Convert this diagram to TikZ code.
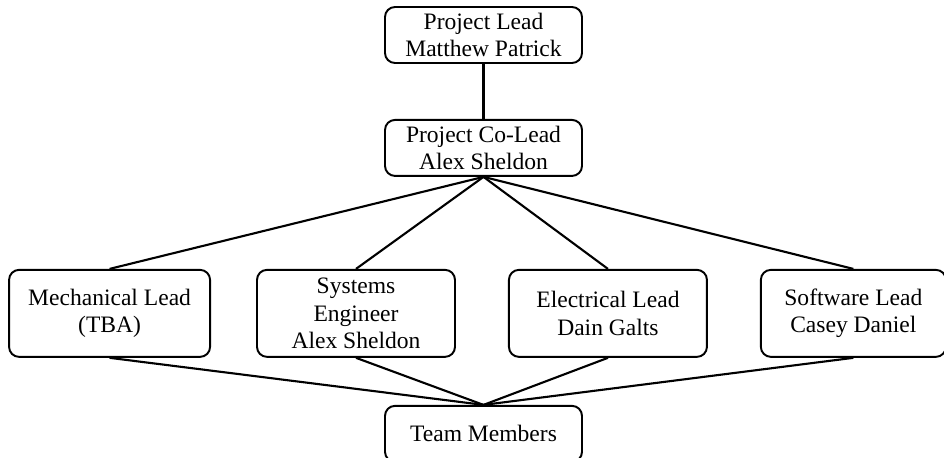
\documentclass[tikz,border=0pt]{standalone}
\usepackage{fontspec}
\setmainfont{Liberation Serif}
\usetikzlibrary{positioning}

\begin{document}
\begin{tikzpicture}[
    role/.style={draw, rectangle, rounded corners=0.2cm, line width=1.1pt, align=center, inner sep=2pt, minimum width=3.94cm, minimum height=1.12cm, font=\fontsize{13.4}{15.8}\selectfont},
    member/.style={role, minimum width=3.96cm, minimum height=1.74cm},
    link/.style={line width=1.2pt, black}
]
\useasboundingbox (0,0) rectangle (18.88,-9.16);

% Nodes
\node[role] (lead) at (9.67,-0.7) {Project Lead\\Matthew Patrick};
\node[role, below=1.1cm of lead] (colead) {Project Co-Lead\\Alex Sheldon};

\node[member, below=1.84cm of colead, xshift=-2.55cm] (sys) {Systems\\Engineer\\Alex Sheldon};
\node[member, minimum width=4.02cm, left=0.9cm of sys] (mech) {Mechanical Lead\\(TBA)};
\node[member, right=1.04cm of sys] (elec) {Electrical Lead\\Dain Galts};
\node[member, minimum width=3.7cm, right=1.04cm of elec] (soft) {Software Lead\\Casey Daniel};

\node[role, below=4.56cm of colead] (team) {Team Members};

% Connections
\draw[link] (lead) -- (colead);

\draw[link] (colead.south) -- (mech.north);
\draw[link] (colead.south) -- (sys.north);
\draw[link] (colead.south) -- (elec.north);
\draw[link] (colead.south) -- (soft.north);

\draw[link] (mech.south) -- (team.north);
\draw[link] (sys.south) -- (team.north);
\draw[link] (elec.south) -- (team.north);
\draw[link] (soft.south) -- (team.north);

\end{tikzpicture}
\end{document}
